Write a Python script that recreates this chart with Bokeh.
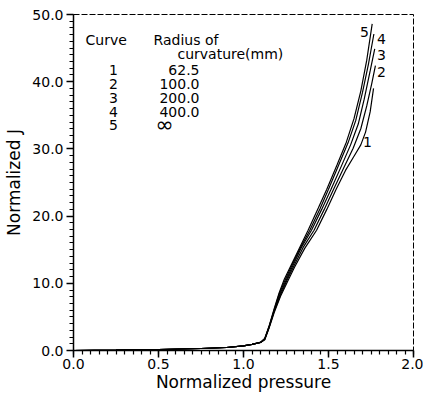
from bokeh.plotting import figure
from bokeh.models import Range1d, SingleIntervalTicker, PrintfTickFormatter, Label
from bokeh.embed import file_html
from bokeh.resources import INLINE

# Data (normalized pressure, normalized J)
low_x = [0.0, 0.25, 0.5, 0.75, 0.9, 1.0, 1.05, 1.1]
low_j = [0.0, 0.05, 0.15, 0.3, 0.45, 0.7, 0.9, 1.2]

c5_x = [1.125, 1.15, 1.18, 1.21, 1.24, 1.28, 1.33, 1.38, 1.44, 1.49, 1.55, 1.605, 1.65, 1.69, 1.725, 1.757]
c5_j = [1.8, 3.6, 6.2, 8.6, 10.6, 12.7, 15.3, 17.9, 21.2, 24.0, 27.6, 31.0, 34.5, 38.6, 43.2, 48.6]
c4_x = [1.125, 1.15, 1.18, 1.21, 1.245, 1.285, 1.335, 1.39, 1.45, 1.50, 1.56, 1.615, 1.66, 1.70, 1.735, 1.767]
c4_j = [1.75, 3.5, 6.0, 8.4, 10.5, 12.7, 15.3, 17.9, 21.1, 24.0, 27.6, 30.9, 34.2, 38.4, 42.6, 47.1]
c3_x = [1.125, 1.15, 1.18, 1.215, 1.25, 1.29, 1.34, 1.40, 1.46, 1.515, 1.575, 1.63, 1.675, 1.71, 1.745, 1.772]
c3_j = [1.7, 3.45, 5.9, 8.4, 10.4, 12.6, 15.3, 17.9, 21.0, 24.0, 27.4, 30.6, 33.7, 37.4, 41.6, 44.9]
c2_x = [1.125, 1.15, 1.18, 1.22, 1.255, 1.295, 1.35, 1.415, 1.475, 1.53, 1.59, 1.645, 1.69, 1.725, 1.755, 1.776]
c2_j = [1.65, 3.4, 5.8, 8.4, 10.4, 12.5, 15.3, 17.9, 21.0, 24.0, 27.2, 30.1, 33.0, 36.4, 39.8, 42.4]
c1_x = [1.125, 1.15, 1.18, 1.22, 1.26, 1.30, 1.36, 1.43, 1.49, 1.545, 1.60, 1.65, 1.69, 1.718, 1.745, 1.765]
c1_j = [1.6, 3.3, 5.6, 8.2, 10.3, 12.4, 15.2, 17.9, 21.0, 24.0, 26.8, 28.9, 30.6, 32.5, 35.5, 39.0]

curve_ids = ["1", "2", "3", "4", "5"]
radii = ["62.5", "100.0", "200.0", "400.0", "\u221e"]

FONT = "DejaVu Sans"

p = figure(width=423, height=394, output_backend="svg", toolbar_location=None,
           x_range=Range1d(0, 2), y_range=Range1d(0, 50))
p.min_border_left = 73
p.min_border_right = 10
p.min_border_top = 14
p.min_border_bottom = 44
p.grid.visible = False
p.background_fill_color = "white"
p.border_fill_color = "white"
p.outline_line_color = "black"
p.outline_line_width = 1
p.outline_line_dash = "6 2"

p.xaxis.ticker = SingleIntervalTicker(interval=0.5, num_minor_ticks=10)
p.yaxis.ticker = SingleIntervalTicker(interval=10, num_minor_ticks=10)
p.xaxis.formatter = PrintfTickFormatter(format="%.1f")
p.yaxis.formatter = PrintfTickFormatter(format="%.1f")
p.xaxis.axis_label = "Normalized pressure"
p.yaxis.axis_label = "Normalized J"
for ax in (p.xaxis, p.yaxis):
    ax.axis_line_color = "black"
    ax.axis_line_width = 1.5
    ax.major_tick_in = 0
    ax.major_tick_out = 7
    ax.minor_tick_in = 0
    ax.minor_tick_out = 4
    ax.major_tick_line_color = "black"
    ax.minor_tick_line_color = "black"
    ax.major_tick_line_width = 1.5
    ax.minor_tick_line_width = 1.2
    ax.major_label_text_font = FONT
    ax.major_label_text_font_size = "14px"
    ax.major_label_text_color = "black"
    ax.axis_label_text_font = FONT
    ax.axis_label_text_font_size = "17px"
    ax.axis_label_text_font_style = "normal"
    ax.axis_label_text_color = "black"
p.xaxis.major_label_standoff = 1
p.xaxis.axis_label_standoff = 0
p.yaxis.major_label_standoff = 3
p.yaxis.axis_label_standoff = 5

for cx, cj in [(c1_x, c1_j), (c2_x, c2_j), (c3_x, c3_j), (c4_x, c4_j), (c5_x, c5_j)]:
    p.line(low_x + cx, low_j + cj, line_color="black", line_width=1.2)

def px_to_data(px, py):
    return (px - 73) / 170.0, (350 - py) / 6.72

def add_text(txt, px, py, align="left", size="14px"):
    x, y = px_to_data(px, py)
    p.add_layout(Label(x=x, y=y, text=txt, text_font=FONT, text_font_size=size,
                       text_align=align, text_baseline="middle", text_color="black"))

# curve labels near the ends
add_text("5", 364, 31, "center")
add_text("4", 381, 38, "center")
add_text("3", 381, 54, "center")
add_text("2", 381, 71, "center")
add_text("1", 367, 141, "center")

# key table
add_text("Curve", 85, 39)
add_text("Radius  of", 153, 39)
add_text("curvature(mm)", 177, 53)
rows_y = [69, 83, 97, 111, 124]
for cid, r, ry in zip(curve_ids, radii, rows_y):
    add_text(cid, 113, ry, "center")
    if r == "\u221e":
        add_text(r, 155, ry, "left", "22px")
    else:
        add_text(r, 199, ry, "right")

open("out.html", "w").write(file_html(p, INLINE))
